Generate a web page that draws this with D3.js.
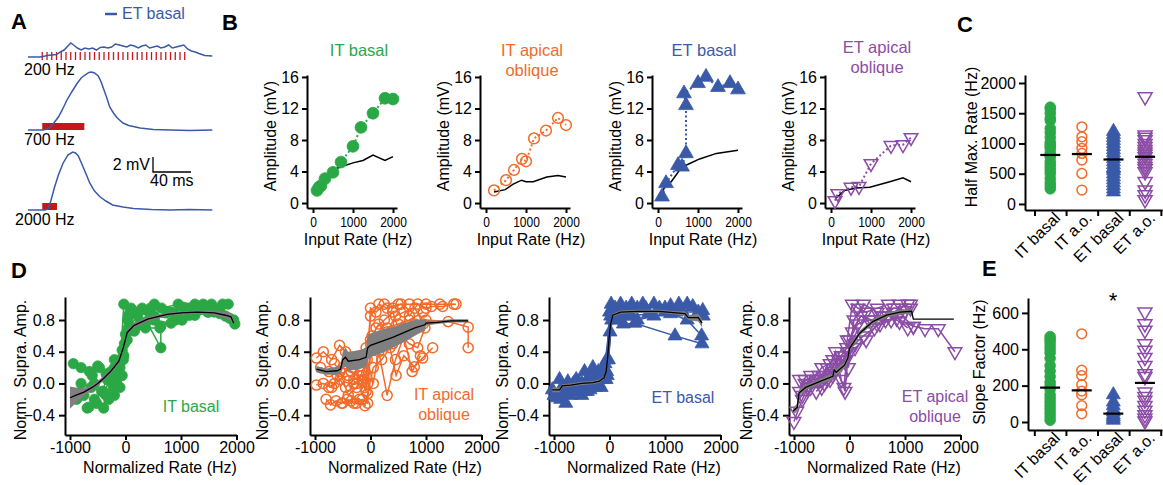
<!DOCTYPE html>
<html>
<head>
<meta charset="utf-8">
<script src="https://cdn.jsdelivr.net/npm/d3@7"></script>
<style>
body { margin: 0; background: #fff; }
text { font-family: "Liberation Sans", Arial, sans-serif; }
</style>
</head>
<body>
<svg id="fig" width="1163" height="485"></svg>
<script>
// ---------- data ----------

// A: ET basal example traces, [ms, mV]
var stimRates = [200, 700, 2000];
var stimPulses = 31;
var stimLabels = ["200 Hz", "700 Hz", "2000 Hz"];
var trace200 = [[0,0],[12,0],[16,0.07],[20,0.2],[25,0.27],[30,0.33],[34,0.67],[38,0.93],[42,1.47],[45,1.87],[48,1.6],[52,1.2],[56,0.93],[60,1.2],[64,1.07],[68,1.2],[72,0.93],[76,1.27],[80,1.33],[84,1.2],[88,1.33],[92,1.73],[96,1.6],[100,1.47],[104,1.33],[108,1.6],[112,1.47],[116,1.2],[120,1.47],[124,1.6],[128,1.2],[132,1.33],[136,1.47],[140,1.2],[144,1.33],[148,1.6],[152,1.2],[156,1.33],[160,1.47],[164,1.6],[168,1.07],[172,0.8],[176,0.67],[180,0.47],[186,0.2],[194,0.13]];
var trace700 = [[0,0],[16,0],[20,0.13],[24,0.4],[28,1.07],[32,1.73],[36,2.67],[41,4.0],[46,5.07],[52,6.27],[56,6.93],[60,7.33],[64,7.67],[67,7.73],[70,7.6],[74,7.2],[77,6.4],[80,5.33],[83,4.27],[86,3.07],[90,2.27],[94,1.6],[100,0.93],[106,0.6],[118,0.27],[132,0.07],[150,0],[170,-0.07],[194,0]];
var trace2000 = [[0,0],[18,0],[21,0.13],[24,1.2],[28,3.07],[32,4.67],[37,6.27],[42,7.33],[47,7.73],[50,7.6],[53,7.2],[58,5.73],[62,4.53],[65,3.6],[70,2.53],[76,1.73],[82,1.2],[89,0.67],[100,0.4],[111,0.2],[130,0.07],[150,0],[170,0.07],[194,0]];
var scaleBarMv = 2, scaleBarMs = 40;

// B: amplitude vs input rate, [Hz, mV]; "lin" = linear sum
var itBasalAmp = [[100,1.6],[150,2.0],[200,2.2],[300,3.1],[500,3.9],[700,5.2],[1000,7.2],[1200,9.6],[1500,11.4],[1800,13.3],[2000,13.2]];
var itBasalLin = [[100,1.4],[500,4.2],[700,4.6],[1000,5.1],[1250,5.4],[1500,6.1],[1800,5.4],[2000,5.9]];
var itApicalAmp = [[200,1.6],[500,2.9],[700,4.2],[900,5.6],[1000,5.3],[1200,8.2],[1500,9.2],[1800,10.8],[2000,9.9]];
var itApicalLin = [[200,1.4],[480,1.7],[680,2.4],[890,2.9],[1000,2.7],[1180,2.7],[1520,3.3],[1800,3.5],[2000,3.3]];
var etBasalAmp = [[100,0.8],[200,2.5],[500,4.8],[600,4.6],[700,6.3],[700,12.4],[650,13.9],[1000,15.2],[1200,16.0],[1500,14.7],[1800,15.2],[2000,14.4]];
var etBasalLin = [[100,1.2],[200,2.5],[330,2.7],[540,4.2],[700,4.8],[1040,5.6],[1460,6.3],[2000,6.7]];
var etApicalAmp = [[100,0.3],[170,1.2],[500,2.0],[700,2.1],[1000,5.0],[1500,7.3],[1800,7.4],[2000,8.3]];
var etApicalLin = [[110,0.55],[340,1.6],[630,1.9],[970,2.0],[1470,2.7],[1800,3.2],[2000,2.7]];

// C / E: per-cell half-max rate and slope factor (Hz)
var groups = ["IT basal", "IT a.o.", "ET basal", "ET a.o."];
var halfMaxItBasal = [1600,1570,1500,1420,1380,1250,1180,1100,1020,980,950,920,850,800,780,700,650,600,550,500,420,350,300,250];
var halfMaxItApical = [1275,1110,1030,920,835,725,505,230];
var halfMaxEtBasal = [1200,1150,1100,1050,1000,950,900,850,800,750,700,650,600,580,550,500,450,400,350,300,250,200];
var halfMaxEtApical = [1770,1140,1100,1060,1000,950,900,860,820,780,720,670,620,580,530,370,230,150,70];
var halfMaxMeans = [810, 825, 735, 780];
var slopeItBasal = [470,455,440,420,400,380,350,310,280,250,220,200,180,150,130,110,90,70,50,30,10];
var slopeItApical = [485,285,255,205,170,150,90,45];
var slopeEtBasal = [150,110,90,70,55,40,30,20,10];
var slopeEtApical = [605,540,505,430,395,355,310,265,250,165,140,120,90,65,40,20,5];
var slopeMeans = [189, 174, 46, 215];

// D: normalized supralinear amplitude vs normalized rate, one array per cell [Hz, norm]
var dItBasalCells = [
  [[-940,0.25],[-800,0.2],[-650,0.15],[-500,0.22],[-350,0.12],[-200,0.3],[-60,0.42],[40,0.8],[200,0.88],[450,0.95],[750,0.9],[1050,0.96],[1400,1.0],[1700,0.93],[1970,0.75]],
  [[-690,-0.31],[-560,-0.2],[-400,-0.1],[-250,0.05],[-100,0.1],[0,0.62],[150,0.7],[380,0.78],[636,0.45],[636,0.72],[900,0.8],[1250,0.86],[1600,0.9]],
  [[-880,-0.2],[-750,-0.15],[-560,0.0],[-330,0.05],[-160,0.0],[-40,0.3],[50,0.7],[220,0.85],[420,0.9],[650,0.95],[950,1.0],[1250,1.0],[1550,1.0],[1850,1.0]],
  [[-660,-0.3],[-520,-0.25],[-394,-0.31],[-364,-0.14],[-220,-0.05],[-100,0.2],[-30,1.0],[100,0.95],[260,0.75],[520,0.8],[820,0.76],[1150,0.86],[1500,0.9],[1800,0.85],[1950,0.8]],
  [[-600,0.1],[-470,0.2],[-300,0.04],[-200,0.2],[-60,0.1],[30,0.55],[160,0.66],[360,0.7],[620,0.7],[920,0.85],[1350,0.95],[1700,0.88]],
  [[-800,0.0],[-620,-0.05],[-430,-0.1],[-260,0.15],[-110,0.25],[-20,0.5],[80,0.9],[300,0.95],[520,1.0],[820,0.9],[1130,0.95],[1480,0.9],[1880,0.82]],
  [[-300,-0.2],[-200,-0.15],[-100,-0.05],[-30,0.35],[50,0.85],[220,0.9],[520,0.85],[1020,0.8],[1520,0.95],[1750,1.0]]
];
var dItApicalCells = [
  [[-976,-0.02],[-850,0.0],[-700,-0.05],[-550,0.05],[-400,0.1],[-250,0.0],[-100,-0.05],[0,0.85],[150,1.0],[300,0.95],[500,1.0],[700,1.0],[1000,1.0],[1250,1.0],[1540,1.0]],
  [[-976,0.32],[-850,0.4],[-700,0.3],[-557,0.48],[-450,0.4],[-330,0.2],[-200,0.35],[-80,0.45],[0,0.55],[200,0.6],[400,0.5],[600,0.7],[800,0.75],[1000,0.8],[1400,0.78],[1760,0.71],[1760,0.45]],
  [[-800,-0.2],[-720,-0.27],[-620,-0.22],[-520,-0.25],[-420,-0.2],[-300,-0.25],[-200,-0.2],[-100,-0.28],[-50,-0.13],[50,0.2],[200,0.3],[350,0.45],[461,0.1],[600,0.35],[790,0.21],[940,0.32],[1120,0.45]],
  [[-900,0.2],[-750,0.15],[-600,0.1],[-450,-0.05],[-300,0.05],[-150,0.1],[-50,0.0],[30,0.6],[150,0.75],[300,0.65],[450,0.85],[600,0.9],[800,0.95],[950,0.75]],
  [[-650,0.25],[-550,0.15],[-400,-0.15],[-250,-0.05],[-150,0.15],[-60,0.3],[50,0.0],[150,0.4],[300,-0.15],[450,0.3],[600,0.6],[750,0.15],[900,0.35]],
  [[-750,-0.05],[-650,0.0],[-500,0.2],[-350,0.15],[-200,0.1],[-80,-0.1],[0,0.95],[100,0.9],[250,1.0],[400,0.95],[550,1.0],[700,0.85],[850,1.0],[1000,0.95],[1100,0.97],[1300,0.97],[1500,1.0]],
  [[-500,-0.25],[-350,-0.22],[-250,-0.25],[-150,-0.2],[-50,-0.25],[0,0.5],[150,0.55],[300,0.7],[500,0.75],[700,0.8],[950,0.9]],
  [[-300,0.0],[-150,0.05],[-30,0.4],[100,0.7],[250,0.8],[400,0.9],[550,0.6],[700,0.5],[850,0.45],[980,0.7]]
];
var dEtBasalCells = [
  [[-1030,-0.08],[-900,-0.1],[-788,-0.25],[-700,-0.05],[-550,0.0],[-400,0.05],[-250,-0.05],[-100,0.05],[-20,0.3],[50,0.95],[200,1.0],[500,0.95],[800,1.0],[1100,0.98],[1400,1.0]],
  [[-950,-0.18],[-800,-0.12],[-650,-0.1],[-500,0.0],[-350,0.1],[-200,0.15],[-80,0.25],[20,0.85],[150,0.9],[400,0.85],[700,0.88],[1000,0.9],[1300,0.92],[1680,0.92]],
  [[-900,0.05],[-750,0.02],[-600,-0.05],[-450,-0.1],[-300,0.0],[-150,-0.05],[-40,0.1],[40,0.8],[250,0.75],[455,0.76],[1180,0.6],[1667,0.5]],
  [[-700,-0.15],[-600,0.05],[-450,0.15],[-300,0.2],[-150,0.1],[-50,0.15],[30,1.0],[300,0.95],[600,1.0],[900,0.95],[1200,0.9],[1600,0.9]],
  [[-500,-0.15],[-400,-0.1],[-250,0.05],[-100,0.2],[-30,0.3],[60,0.9],[300,0.85],[500,0.8],[800,0.85],[1100,0.88],[1400,0.8],[1660,0.6]],
  [[-850,-0.05],[-650,0.0],[-350,-0.08],[-200,0.0],[-60,0.05],[10,0.65],[100,0.95],[400,1.0],[1000,0.95],[1500,0.97]],
  [[-1000,-0.15],[-880,-0.2],[-760,-0.05],[-600,-0.1],[-420,0.0],[-260,0.08],[-120,0.12],[-50,0.3],[0,0.9],[180,0.8],[650,0.95],[1250,1.0],[1690,0.85]]
];
var dEtApicalCells = [
  [[-950,-0.35],[-900,-0.1],[-800,0.05],[-700,0.0],[-550,0.05],[-400,0.2],[-300,0.1],[-200,0.25],[-100,0.3],[-40,0.55],[50,1.0],[150,0.95],[300,0.9],[500,0.95],[700,1.0],[900,1.0],[1100,1.0]],
  [[-1000,-0.48],[-850,-0.2],[-750,-0.05],[-600,0.05],[-450,0.1],[-300,0.3],[-150,0.35],[-50,0.45],[50,0.65],[200,0.85],[400,0.8],[600,0.85],[800,0.95],[1000,0.92],[1100,0.95]],
  [[-900,0.05],[-800,0.0],[-650,0.05],[-500,0.2],[-350,0.25],[-250,0.4],[-150,0.05],[-80,-0.1],[0,0.55],[150,0.75],[350,0.8],[550,0.75],[750,0.8],[950,0.85],[1150,0.72]],
  [[-700,-0.05],[-550,0.1],[-400,0.05],[-250,0.2],[-100,-0.05],[-40,0.4],[100,0.5],[250,0.6],[450,0.7],[650,0.8],[850,0.82],[1150,0.72],[1360,0.69],[1600,0.69],[1900,0.4]],
  [[-600,-0.1],[-450,0.0],[-300,0.15],[-150,0.25],[-60,0.3],[0,0.4],[100,0.45],[300,0.55],[500,0.75],[700,0.85],[900,0.78],[1050,0.7]],
  [[-850,-0.15],[-700,0.1],[-500,-0.05],[-350,0.05],[-200,0.3],[-100,0.35],[-20,0.2],[80,0.8],[250,1.0],[500,0.9],[800,0.9],[1050,1.0]]
];
// D: group mean with SEM, [Hz, mean, sem]
var dItBasalMean = [[-1000,-0.18,0.14],[-900,-0.15,0.1],[-750,-0.11,0.05],[-600,-0.05,0.03],[-500,0.0,0.03],[-400,0.06,0.03],[-270,0.15,0.03],[-120,0.28,0.03],[-40,0.45,0.03],[30,0.64,0.03],[150,0.73,0.03],[400,0.81,0.03],[750,0.87,0.02],[1000,0.89,0.02],[1300,0.9,0.02],[1600,0.89,0.03],[1800,0.86,0.04],[1900,0.84,0.05],[1950,0.76,0.03]];
var dItApicalMean = [[-976,0.18,0.04],[-800,0.15,0.04],[-600,0.16,0.05],[-540,0.18,0.05],[-500,0.3,0.1],[-450,0.33,0.12],[-400,0.28,0.12],[-200,0.3,0.12],[-80,0.33,0.12],[-50,0.45,0.15],[0,0.48,0.15],[200,0.53,0.15],[400,0.58,0.13],[600,0.64,0.12],[800,0.7,0.1],[980,0.74,0.07],[1000,0.76,0.03],[1200,0.77,0.02],[1450,0.79,0.02],[1760,0.79,0.02]];
var dEtBasalMean = [[-1030,-0.08,0.03],[-900,-0.08,0.03],[-850,-0.03,0.02],[-700,-0.02,0.02],[-500,0.0,0.02],[-300,0.01,0.02],[-180,0.03,0.02],[-100,0.07,0.02],[-60,0.15,0.02],[-30,0.35,0.02],[-10,0.55,0.02],[20,0.75,0.02],[60,0.86,0.02],[200,0.9,0.02],[500,0.91,0.02],[900,0.91,0.02],[1200,0.89,0.02],[1360,0.88,0.03],[1420,0.83,0.03],[1600,0.83,0.05],[1667,0.76,0.05]];
var dEtApicalMean = [[-1018,-0.35,0.04],[-940,-0.3,0.05],[-910,-0.12,0.04],[-790,-0.05,0.03],[-550,0.02,0.03],[-300,0.09,0.04],[-275,0.17,0.04],[-240,0.14,0.04],[-90,0.23,0.04],[-30,0.32,0.05],[0,0.44,0.04],[180,0.63,0.03],[420,0.78,0.03],[670,0.86,0.03],[910,0.9,0.03],[1120,0.91,0.03],[1150,0.81,0],[1880,0.81,0]];

// ---------- drawing ----------
var GREEN = "#2aa845", ORANGE = "#f26b2a", BLUE = "#3a5aa8", PURPLE = "#8b4ca5", RED = "#c4161c";
var svg = d3.select("#fig");

function styleAxis(g, fs) {
    g.attr("font-size", null).attr("font-family", null);
    g.selectAll("path, line").attr("stroke", "#000").attr("stroke-width", 2);
    g.selectAll("text").attr("font-size", fs).attr("fill", "#000");
}

function label(x, y, txt, opts) {
    opts = opts || {};
    var t = svg.append("text")
    .attr("x", x).attr("y", y)
    .attr("font-size", opts.size || 16)
    .attr("font-weight", opts.bold ? "bold" : null)
    .attr("fill", opts.color || "#000")
    .attr("text-anchor", opts.anchor || "start")
    .style("white-space", "pre")
    .text(txt);
    if (opts.rotate) t.attr("transform", "rotate(" + opts.rotate + "," + x + "," + y + ")");
    return t;
}

function markers(g, pts, x, y, shape, color, filled, size) {
    var sym = d3.symbol().type(shape == "circle" ? d3.symbolCircle : d3.symbolTriangle).size(size);
    g.selectAll(null).data(pts).enter().append("path")
    .attr("d", sym)
    .attr("transform", function(d) {
        return "translate(" + x(d[0]) + "," + y(d[1]) + ")" + (shape == "down" ? " rotate(180)" : "");
    })
    .attr("fill", filled ? color : "none")
    .attr("stroke", color)
    .attr("stroke-width", filled ? 0.8 : 1.5);
}

// panel letters
label(11, 29, "A", {size: 22, bold: true});
label(222, 30, "B", {size: 22, bold: true});
label(957, 32, "C", {size: 22, bold: true});
label(11, 278, "D", {size: 22, bold: true});
label(982, 276, "E", {size: 22, bold: true});

// ---- A ----
svg.append("line").attr("x1", 105).attr("x2", 117).attr("y1", 14).attr("y2", 14)
.attr("stroke", BLUE).attr("stroke-width", 2.5);
label(122, 19, "ET basal", {color: BLUE});

var tx = d3.scaleLinear().domain([0, 194]).range([28, 28 + 194 * 0.95]);
var mvPx = 7.5, stimStart = 15;
var traces = [trace200, trace700, trace2000];
var baselines = [57, 130, 210];
var labelPos = [[24, 75], [24, 145], [15, 225]];

traces.forEach(function(tr, i) {
    var b = baselines[i];
    var ty = d3.scaleLinear().domain([0, 1]).range([b, b - mvPx]);
    var period = 1000 / stimRates[i];
    if (stimRates[i] < 500) {
        svg.selectAll(null).data(d3.range(stimPulses)).enter().append("line")
        .attr("x1", function(k) { return tx(stimStart + k * period); })
        .attr("x2", function(k) { return tx(stimStart + k * period); })
        .attr("y1", b - 5).attr("y2", b + 3)
        .attr("stroke", RED).attr("stroke-width", 1.3);
    } else {
        svg.append("rect")
        .attr("x", tx(stimStart)).attr("y", b - 7)
        .attr("width", tx(stimStart + stimPulses * period) - tx(stimStart)).attr("height", 7)
        .attr("fill", RED);
    }
    svg.append("path").datum(tr)
    .attr("d", d3.line().x(function(d) { return tx(d[0]); }).y(function(d) { return ty(d[1]); }))
    .attr("fill", "none").attr("stroke", BLUE).attr("stroke-width", 1.5);
    label(labelPos[i][0], labelPos[i][1], stimLabels[i]);
});

// scale bar
var sbx = 153, sby = 172;
svg.append("path")
.attr("d", "M" + sbx + "," + (sby - scaleBarMv * mvPx) + "V" + sby + "H" + (sbx + scaleBarMs * 0.95))
.attr("fill", "none").attr("stroke", "#000").attr("stroke-width", 1.3);
label(150, 170, scaleBarMv + " mV", {anchor: "end"});
label(150, 186, scaleBarMs + " ms");

// ---- B ----
var bPanels = [
    {ox: 307, title: ["IT basal"], ty: 56, pts: itBasalAmp, lin: itBasalLin, color: GREEN, shape: "circle", filled: true, size: 110},
    {ox: 480, title: ["IT apical", "oblique"], ty: 56, pts: itApicalAmp, lin: itApicalLin, color: ORANGE, shape: "circle", filled: false, size: 90},
    {ox: 652, title: ["ET basal"], ty: 56, pts: etBasalAmp, lin: etBasalLin, color: BLUE, shape: "up", filled: true, size: 95},
    {ox: 825, title: ["ET apical", "oblique"], ty: 53, pts: etApicalAmp, lin: etApicalLin, color: PURPLE, shape: "down", filled: false, size: 80}
];

bPanels.forEach(function(p) {
    var x = d3.scaleLinear().domain([-150, 2100]).range([p.ox, p.ox + 90]);
    var y = d3.scaleLinear().domain([-0.63, 16.25]).range([208, 75]);
    var g = svg.append("g");

    var gy = g.append("g").attr("transform", "translate(" + p.ox + ",0)")
    .call(d3.axisLeft(y).tickValues([0, 4, 8, 12, 16]).tickSize(5).tickPadding(3).tickSizeOuter(0));
    styleAxis(gy, 16);
    var gx = g.append("g").attr("transform", "translate(0,208)")
    .call(d3.axisBottom(x).tickValues([0, 1000, 2000]).tickFormat(d3.format("d")).tickSize(5).tickPadding(3).tickSizeOuter(0));
    styleAxis(gx, 15);
    gx.selectAll("text").attr("transform", "scale(0.8,1)");

    var line = d3.line().x(function(d) { return x(d[0]); }).y(function(d) { return y(d[1]); });
    g.append("path").datum(p.pts).attr("d", line)
    .attr("fill", "none").attr("stroke", p.color).attr("stroke-width", 2).attr("stroke-dasharray", "2,2.5");
    g.append("path").datum(p.lin).attr("d", line)
    .attr("fill", "none").attr("stroke", "#000").attr("stroke-width", 1.5);
    markers(g, p.pts, x, y, p.shape, p.color, p.filled, p.size);

    p.title.forEach(function(t, k) {
        label(p.ox + 52, p.ty + k * 20, t, {anchor: "middle", color: p.color, size: 16.5});
    });
    label(p.ox - 31, 136, "Amplitude (mV)", {anchor: "middle", rotate: -90});
    label(p.ox + 51, 245, "Input Rate (Hz)", {anchor: "middle"});
});

// ---- C and E: per-cell scatter columns ----
function columnPanel(cfg) {
    var x = d3.scaleLinear().domain([cfg.xmin, 4.04]).range([cfg.x0, cfg.x0 + (4.04 - cfg.xmin) * 31.6]);
    var y = d3.scaleLinear().domain(cfg.ydom).range([cfg.axisY, cfg.top]);
    var g = svg.append("g");
    var gy = g.append("g").attr("transform", "translate(" + cfg.x0 + ",0)")
    .call(d3.axisLeft(y).tickValues(cfg.ticks).tickFormat(d3.format("d")).tickSize(6).tickPadding(3).tickSizeOuter(0));
    styleAxis(gy, 16);
    var gx = g.append("g").attr("transform", "translate(0," + cfg.axisY + ")")
    .call(d3.axisBottom(x).tickValues([0, 1, 2, 3, 4]).tickFormat("").tickSize(6).tickSizeOuter(0));
    styleAxis(gx, 16);

    var shapes = ["circle", "circle", "up", "down"];
    var colors = [GREEN, ORANGE, BLUE, PURPLE];
    var filled = [true, false, true, false];
    var sizes = [90, 75, 85, 85];
    cfg.values.forEach(function(vals, i) {
        var pts = vals.map(function(v) { return [i + 0.5, v]; });
        markers(g, pts, x, y, shapes[i], colors[i], filled[i], sizes[i]);
        g.append("line")
        .attr("x1", x(i + 0.5) - 10).attr("x2", x(i + 0.5) + 10)
        .attr("y1", y(cfg.means[i])).attr("y2", y(cfg.means[i]))
        .attr("stroke", "#000").attr("stroke-width", 2.2);
        label(x(i + 0.5) + 11, cfg.axisY + 9, groups[i], {anchor: "end", rotate: -45});
    });
    label(cfg.ylabX, cfg.ylabY, cfg.ylab, {anchor: "middle", rotate: -90});
}

columnPanel({
    x0: 1025, xmin: -0.3, axisY: 210, top: 75, ydom: [-100, 2132], ticks: [0, 500, 1000, 1500, 2000],
    values: [halfMaxItBasal, halfMaxItApical, halfMaxEtBasal, halfMaxEtApical], means: halfMaxMeans,
    ylab: "Half Max. Rate (Hz)", ylabX: 977, ylabY: 137
});
columnPanel({
    x0: 1028, xmin: -0.2, axisY: 430, top: 298, ydom: [-44, 682], ticks: [0, 200, 400, 600],
    values: [slopeItBasal, slopeItApical, slopeEtBasal, slopeEtApical], means: slopeMeans,
    ylab: "Slope Factor (Hz)", ylabX: 985, ylabY: 362
});
label(1113, 308, "*", {anchor: "middle", size: 22});

// ---- D ----
var dPanels = [
    {ox: 65, cells: dItBasalCells, mean: dItBasalMean, color: GREEN, shape: "circle", filled: true, size: 85, name: ["IT basal"], nx: 191, ny: 412, ylx: 26},
    {ox: 310, cells: dItApicalCells, mean: dItApicalMean, color: ORANGE, shape: "circle", filled: false, size: 80, name: ["IT apical", "oblique"], nx: 444, ny: 400, ylx: 268},
    {ox: 549, cells: dEtBasalCells, mean: dEtBasalMean, color: BLUE, shape: "up", filled: true, size: 85, name: ["ET basal"], nx: 683, ny: 403, ylx: 508},
    {ox: 789, cells: dEtApicalCells, mean: dEtApicalMean, color: PURPLE, shape: "down", filled: false, size: 80, name: ["ET apical", "oblique"], nx: 935, ny: 402, ylx: 752}
];

dPanels.forEach(function(p) {
    var x = d3.scaleLinear().domain([-1090, 2000]).range([p.ox, p.ox + 171.5]);
    var y = d3.scaleLinear().domain([-0.65, 1.09]).range([435, 297]);
    var g = svg.append("g");

    var gy = g.append("g").attr("transform", "translate(" + p.ox + ",0)")
    .call(d3.axisLeft(y).tickValues([-0.4, 0, 0.4, 0.8]).tickFormat(d3.format(".1f")).tickSize(6).tickPadding(4).tickSizeOuter(0));
    styleAxis(gy, 16);
    var gx = g.append("g").attr("transform", "translate(0,435)")
    .call(d3.axisBottom(x).tickValues([-1000, 0, 1000, 2000]).tickFormat(function(d) { return d < 0 ? "-" + (-d) : d; }).tickSize(5).tickPadding(2).tickSizeOuter(0));
    styleAxis(gx, 16);

    var line = d3.line().x(function(d) { return x(d[0]); }).y(function(d) { return y(d[1]); });
    p.cells.forEach(function(c) {
        g.append("path").datum(c).attr("d", line)
        .attr("fill", "none").attr("stroke", p.color).attr("stroke-width", 1.5);
    });
    p.cells.forEach(function(c) {
        markers(g, c, x, y, p.shape, p.color, p.filled, p.size);
    });

    var band = d3.area().x(function(d) { return x(d[0]); })
    .y0(function(d) { return y(d[1] - d[2]); })
    .y1(function(d) { return y(d[1] + d[2]); });
    g.append("path").datum(p.mean).attr("d", band).attr("fill", "#7f7f7f");
    g.append("path").datum(p.mean).attr("d", line)
    .attr("fill", "none").attr("stroke", "#000").attr("stroke-width", 1.3);

    p.name.forEach(function(t, k) {
        label(p.nx, p.ny + k * 20, t, {anchor: "middle", color: p.color});
    });
    label(p.ylx, 370, "Norm.  Supra. Amp.", {anchor: "middle", rotate: -90});
    label(p.ox + 95, 473, "Normalized Rate (Hz)", {anchor: "middle"});
});
</script>
</body>
</html>
